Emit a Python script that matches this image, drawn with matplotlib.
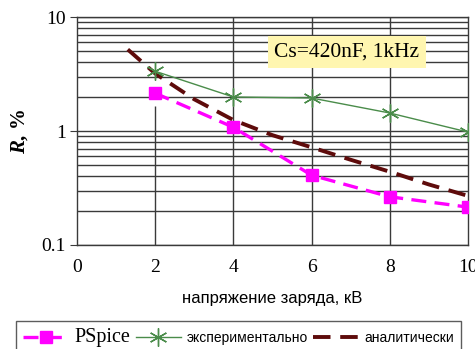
import matplotlib.pyplot as plt
from matplotlib.ticker import FixedLocator, LogLocator, NullFormatter

# data
volts = [2, 4, 6, 8, 10]
pspice = [2.15, 1.08, 0.41, 0.265, 0.215]
experiment = [3.35, 1.99, 1.95, 1.44, 0.98]
analytic_x = [1.3, 2, 3, 4, 5, 6, 7, 8, 9, 10]
analytic_y = [5.2, 3.2, 1.9, 1.25, 0.92, 0.72, 0.56, 0.44, 0.34, 0.27]

xticks = [0, 2, 4, 6, 8, 10]
yticks = [0.1, 1, 10]
ytick_labels = ["0.1", "1", "10"]

serif = "Liberation Serif"
sans = "Liberation Sans"

plt.rcParams["mathtext.fontset"] = "custom"
plt.rcParams["mathtext.it"] = "Liberation Serif:italic:bold"
plt.rcParams["mathtext.rm"] = "Liberation Serif:bold"

fig = plt.figure(figsize=(4.75, 3.49), dpi=100)
ax = fig.add_axes([0.162, 0.298, 0.823, 0.653])

ax.set_yscale("log")
ax.set_xlim(0, 10)
ax.set_ylim(0.1, 10)

grid_color = "#3a3a3a"
ax.yaxis.set_minor_locator(LogLocator(base=10, subs=range(2, 10)))
ax.yaxis.set_minor_formatter(NullFormatter())
ax.grid(True, axis="y", which="both", color=grid_color, lw=1.0)
for v in [4, 6, 8]:
    ax.axvline(v, color=grid_color, lw=1.0, zorder=1)
ax.vlines(2, 0.1, 1.65, color=grid_color, lw=1.0, zorder=1)
ax.set_axisbelow(True)

for s in ax.spines.values():
    s.set_color(grid_color)
    s.set_linewidth(1.0)

ax.plot(analytic_x, analytic_y, color="#5e0b0b", lw=2.8, dashes=(4.5, 2.5),
        label="аналитически", zorder=3)
ax.plot(volts, experiment, color="#4a8c4a", lw=1.0, marker=(6, 2, 0), ms=13,
        mew=1.0, label="экспериментально", zorder=4)
ax.plot(volts, pspice, color="#ff00ff", lw=2.4, dashes=(4.5, 2.5), marker="s",
        ms=9, label="PSpice", zorder=5)

ax.xaxis.set_major_locator(FixedLocator(xticks))
ax.set_xticklabels([str(t) for t in xticks], fontfamily=serif, fontsize=14)
ax.tick_params(axis="x", length=0, pad=10)
ax.set_yticks(yticks)
ax.set_yticklabels(ytick_labels, fontfamily=serif, fontsize=14)
ax.tick_params(axis="y", which="major", length=5, pad=3, color=grid_color)
ax.tick_params(axis="y", which="minor", length=0)

ax.set_xlabel("напряжение заряда, кВ", fontfamily=sans, fontsize=12, labelpad=11)
ax.set_ylabel("$\\mathit{R}$, %", fontfamily=serif, fontsize=15,
              fontweight="bold", labelpad=8)

ax.text(6.9, 4.9, "Cs=420nF, 1kHz", fontfamily=serif, fontsize=15.5,
        ha="center", va="center", zorder=6,
        bbox=dict(boxstyle="square,pad=0.3", fc="#fff6b0", ec="none"))

handles, labels = ax.get_legend_handles_labels()
order = [2, 1, 0]
leg = fig.legend([handles[i] for i in order], [labels[i] for i in order],
                 loc="lower left", bbox_to_anchor=(0.02, -0.035), ncol=3,
                 frameon=True, fancybox=False, handlelength=3.3,
                 columnspacing=0.35, handletextpad=0.4, borderpad=0.5,
                 prop={"family": sans, "size": 10})
leg.get_frame().set_edgecolor("#333333")
leg.get_frame().set_linewidth(1.0)
leg.get_texts()[0].set_fontfamily(serif)
leg.get_texts()[0].set_fontsize(14.5)

fig.savefig("out.png", dpi=100)
